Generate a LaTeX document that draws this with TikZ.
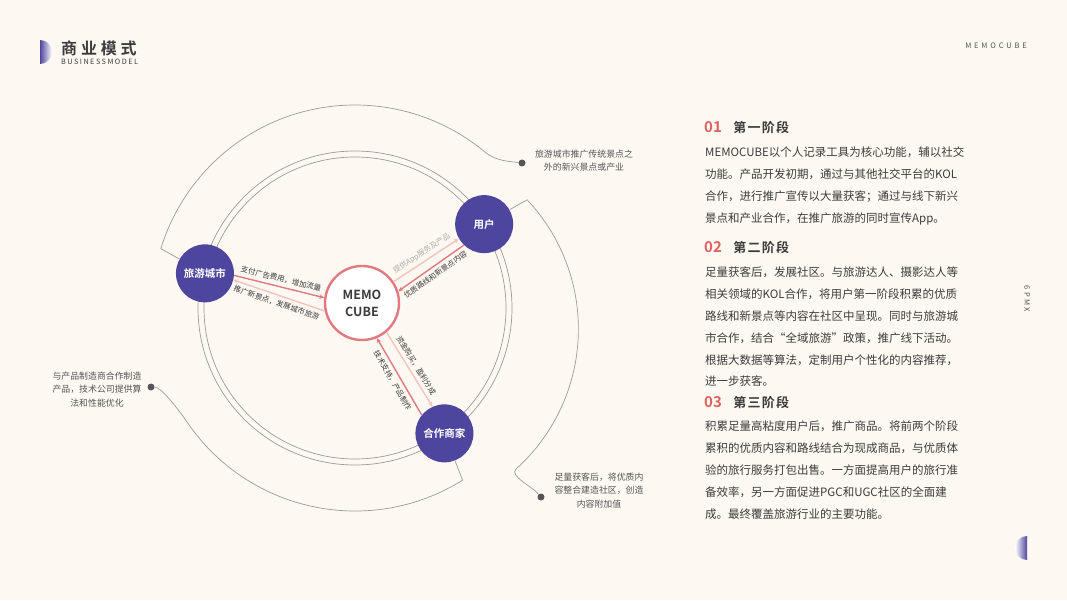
\documentclass[tikz,border=0pt]{standalone}
\usepackage{fontspec}
\setmainfont{Noto Sans CJK SC}[BoldFont={Noto Sans CJK SC Bold}]
\usetikzlibrary{arrows.meta, positioning, calc}
\definecolor{bgcream}{HTML}{FDF8F1}
\definecolor{hubpurple}{HTML}{4E469E}
\definecolor{linkdark}{HTML}{E07A80}
\definecolor{linklight}{HTML}{F3C3BF}
\definecolor{ringgray}{HTML}{9E9A98}
\definecolor{numred}{HTML}{E0625E}
\definecolor{bodytext}{HTML}{3C3C3C}
\definecolor{notegray}{HTML}{555555}
\definecolor{labellight}{HTML}{B5ACAA}
\tikzstyle{hub}       = [circle, fill=hubpurple, minimum size=58pt, inner sep=0pt,
                         text=white, font=\fontsize{10.5}{12}\selectfont\bfseries]
\tikzstyle{core}      = [circle, draw=linkdark, line width=2.4pt, fill=white, minimum size=74pt,
                         inner sep=0pt, align=center, text=bodytext, font=\fontsize{12.5}{17}\selectfont\bfseries]
\tikzstyle{ring}      = [draw=ringgray, line width=0.7pt]
\tikzstyle{dot}       = [circle, fill=notegray, minimum size=7pt, inner sep=0pt]
\tikzstyle{note}      = [align=center, text=notegray, inner sep=0pt, font=\fontsize{8.9}{13.5}\selectfont]
\tikzstyle{flowdark}  = [draw=linkdark, line width=1.4pt]
\tikzstyle{flowlight} = [draw=linklight, line width=1.4pt]
\tikzstyle{flowtext}  = [sloped, midway, inner sep=3.5pt, text=bodytext, font=\fontsize{7.5}{9}\selectfont]
\tikzstyle{stagenum}  = [inner sep=0pt, text=numred, font=\fontsize{15}{18}\selectfont\bfseries]
\tikzstyle{stagehead} = [inner sep=0pt, text=bodytext, font=\fontsize{13}{16}\selectfont\bfseries\addfontfeature{LetterSpace=10}]
\tikzstyle{stagebody} = [inner sep=0pt, align=left, text=bodytext, font=\fontsize{11.5}{21.8}\selectfont]

\begin{document}
\begin{tikzpicture}[x=1pt, y=1pt, >={Stealth[length=5pt, width=4.5pt]}]
    \useasboundingbox (0,0) rectangle (1067,600);
    \fill[bgcream] (0,0) rectangle (1067,600);

    % header and page marks
    \shade[left color=hubpurple, right color=white] (40,536) arc[start angle=-90, end angle=90, radius=12pt] -- cycle;
    \shade[left color=white, right color=hubpurple] (1027,64) arc[start angle=90, end angle=270, radius=12pt] -- cycle;
    \node[anchor=west, inner sep=0pt, text=bodytext, font=\fontsize{16}{18}\selectfont\bfseries\addfontfeature{LetterSpace=24}] (title) at (61,552) {商业模式};
    \node[anchor=north west, inner sep=0pt, text=bodytext, font=\fontsize{7.3}{8}\selectfont\addfontfeature{LetterSpace=20}] (subtitle) at (61,541) {BUSINESSMODEL};
    \node[anchor=east, inner sep=0pt, text=notegray, font=\fontsize{7.5}{8}\selectfont\addfontfeature{LetterSpace=38}] (brand) at (1027,554) {MEMOCUBE};
    \node[rotate=-90, inner sep=0pt, text=notegray, font=\fontsize{7.5}{8}\selectfont\addfontfeature{LetterSpace=30}] (pageno) at (1027,301) {6PMX};

    % double ring
    \coordinate (C) at (355,292);
    \coordinate (Cr) at (390,271);
    \draw[ring] (C) circle[radius=151pt];
    \draw[ring] (C) circle[radius=157pt];

    % circles
    \node[core] (memo) at (362,297) {MEMO\\CUBE};
    \node[hub] (city) at ($(C)+(167:154pt)$) {旅游城市};
    \node[hub] (user) at ($(C)+(33:154pt)$) {用户};
    \node[hub] (partner) at ($(C)+(-54.5:154pt)$) {合作商家};

    % notes
    \node[note] (notecity) at (584,439.5) {旅游城市推广传统景点之\\外的新兴景点或产业};
    \node[dot] (dotcity) at (522,437) {};
    \node[note] (notepartner) at (97,210.5) {与产品制造商合作制造\\产品，技术公司提供算\\法和性能优化};
    \node[dot] (dotpartner) at (151,213) {};
    \node[note] (noteuser) at (599,109.5) {足量获客后，将优质内\\容整合建造社区，创造\\内容附加值};
    \node[dot] (dotuser) at (541,103) {};

    \coordinate (a1) at ($(C)+(163:203pt)$);
    \coordinate (a2) at ($(Cr)+(43.3:188.4pt)$);
    \coordinate (a3) at ($(C)+(-58:203pt)$);
    \draw[ring] (city) -- (a1) arc[start angle=163, end angle=50, radius=203pt]
        .. controls +(-40:14pt) and +(172:10pt) .. (dotcity);
    \draw[ring] (user) -- (a2) arc[start angle=43.3, end angle=-48, radius=188.4pt]
        .. controls +(-138:10pt) and +(130:14pt) .. (dotuser);
    \draw[ring] (partner) -- (a3) arc[start angle=-58, end angle=-146, radius=203pt]
        .. controls +(124:14pt) and +(0:10pt) .. (dotpartner);

    % flows
    \draw[flowdark, ->] (city.-4) -- (memo.172) node[flowtext, above] {支付广告费用，增加流量};
    \draw[flowlight, <-] (city.-13) -- (memo.192) node[flowtext, below] {推广新景点，发展城市旅游};
    \draw[flowlight, ->] (memo.34) -- (user.210) node[flowtext, above, text=labellight] {提供App服务及产品};
    \draw[flowdark, <-] (memo.18) -- (user.226) node[flowtext, below] {优质路线和新景点内容};
    \draw[flowlight, ->] (memo.-50) -- (partner.114) node[flowtext, above] {资金购买，盈利分成};
    \draw[flowdark, <-] (memo.-67) -- (partner.141) node[flowtext, below] {技术支持，产品制作};

    % stages
    \node[stagenum, anchor=base west] (num1) at (704,467) {01};
    \node[stagehead, base right=11pt of num1] (head1) {第一阶段};
    \node[stagebody, anchor=north west] (body1) at (705,453) {MEMOCUBE以个人记录工具为核心功能，辅以社交\\功能。产品开发初期，通过与其他社交平台的KOL\\合作，进行推广宣传以大量获客；通过与线下新兴\\景点和产业合作，在推广旅游的同时宣传App。};
    \node[stagenum, anchor=base west] (num2) at (704,347) {02};
    \node[stagehead, base right=11pt of num2] (head2) {第二阶段};
    \node[stagebody, anchor=north west] (body2) at (705,333) {足量获客后，发展社区。与旅游达人、摄影达人等\\相关领域的KOL合作，将用户第一阶段积累的优质\\路线和新景点等内容在社区中呈现。同时与旅游城\\市合作，结合“全域旅游”政策，推广线下活动。\\根据大数据等算法，定制用户个性化的内容推荐，\\进一步获客。};
    \node[stagenum, anchor=base west] (num3) at (704,193) {03};
    \node[stagehead, base right=11pt of num3] (head3) {第三阶段};
    \node[stagebody, anchor=north west] (body3) at (705,179) {积累足量高粘度用户后，推广商品。将前两个阶段\\累积的优质内容和路线结合为现成商品，与优质体\\验的旅行服务打包出售。一方面提高用户的旅行准\\备效率，另一方面促进PGC和UGC社区的全面建\\成。最终覆盖旅游行业的主要功能。};
\end{tikzpicture}
\end{document}
